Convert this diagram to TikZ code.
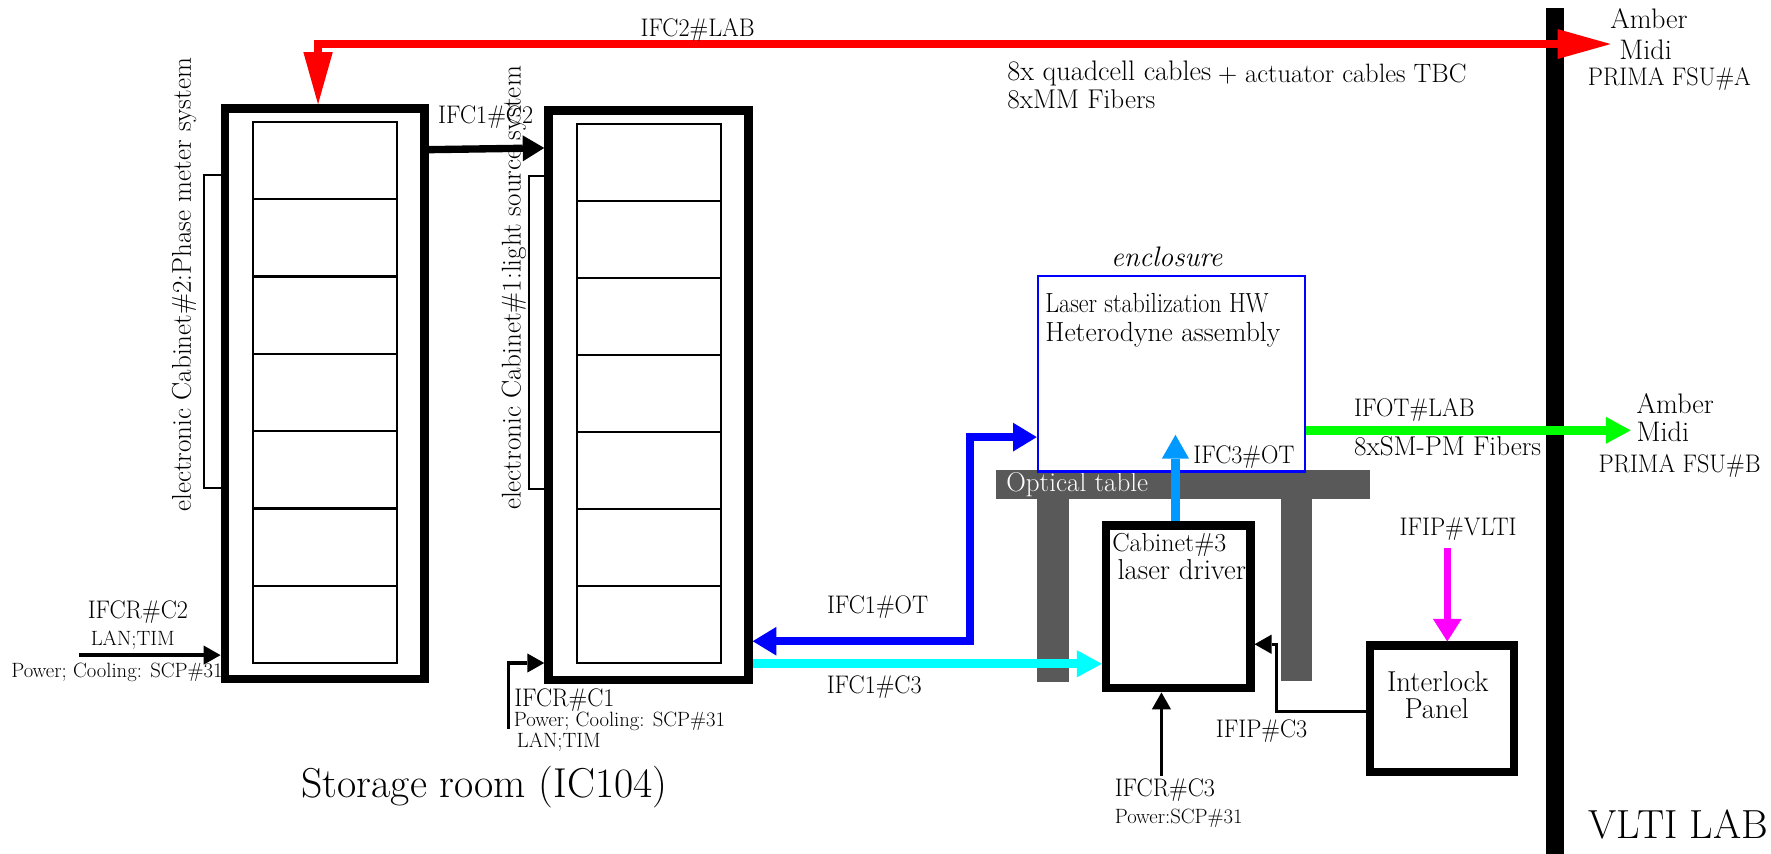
\documentclass[tikz,border=0pt]{standalone}
\usepackage{graphicx}
\usetikzlibrary{arrows.meta}
\definecolor{tgray}{HTML}{595959}
\definecolor{lblue}{HTML}{0099FF}
\definecolor{pcyan}{RGB}{0,255,255}
\definecolor{pmag}{RGB}{255,0,255}
\definecolor{pgreen}{RGB}{0,255,0}
\definecolor{pblue}{RGB}{0,0,255}
\definecolor{pred}{RGB}{255,0,0}
% \lbl{size}{horizontal scale}{text}
\newcommand\lbl[3]{\scalebox{#2}[1]{\fontsize{#1}{#1}\selectfont #3}}
\begin{document}
\begin{tikzpicture}[x=1pt,y=-1pt,
 txt/.style={inner sep=0pt,outer sep=0pt},
 rack/.style={draw,line width=7.5pt,inner sep=0pt},
 slotbox/.style={draw,line width=2pt,inner sep=0pt,outer sep=0pt},
 panel/.style={draw,line width=1.8pt,inner sep=0pt},
 divider/.style={line width=2pt},
 leg/.style={fill=tgray},
 redline/.style={draw=pred,line width=7.4pt,line join=miter,arrows={Triangle[length=47pt,width=26.5pt,line width=0pt]-Triangle[length=46pt,width=26pt,line width=0pt]}},
 blkarrow/.style={draw=black,line width=6.5pt,arrows={-Triangle[length=19pt,width=23pt,line width=0pt]}},
 thinarrow/.style={draw=black,line width=3pt,arrows={-Triangle[length=15pt,width=17pt,line width=0pt]}},
 bluearrow/.style={draw=pblue,line width=7.5pt,arrows={Triangle[length=21pt,width=25.5pt,line width=0pt]-Triangle[length=21pt,width=25.5pt,line width=0pt]}},
 cyanarrow/.style={draw=pcyan,line width=8pt,arrows={-Triangle[length=22pt,width=24pt,line width=0pt]}},
 lbluearrow/.style={draw=lblue,line width=8pt,arrows={-Triangle[length=21pt,width=24pt,line width=0pt]}},
 greenarrow/.style={draw=pgreen,line width=7.4pt,arrows={-Triangle[length=22pt,width=24pt,line width=0pt]}},
 magarrow/.style={draw=pmag,line width=6.7pt,arrows={-Triangle[length=20pt,width=25.5pt,line width=0pt]}},
]
\useasboundingbox (0,0) rectangle (1568,756);
\fill[white] (0,0) rectangle (1568,756);

% ---------- cabinet 2 ----------
\node[panel,minimum width=17pt,minimum height=277pt] (side2) at (189.5,293.5) {};
\node[rack,minimum width=177pt,minimum height=505pt] (cab2) at (287.5,348.5) {};
\node[slotbox,minimum width=127.5pt,minimum height=479pt] (cab2in) at (287.75,347.5) {};
\foreach \k in {1,...,6} \draw[divider] (224,{108+\k*68.43}) -- (351.5,{108+\k*68.43});
\node[txt,rotate=90] (lab2) at (163,252) {\lbl{24}{1}{electronic Cabinet\#2:Phase meter system}};

% ---------- cabinet 1 ----------
\node[panel,minimum width=16.3pt,minimum height=277.2pt] (side1) at (476.15,294.4) {};
\node[rack,minimum width=177.1pt,minimum height=504pt] (cab1) at (574.15,350) {};
\node[slotbox,minimum width=127.6pt,minimum height=477.5pt] (cab1in) at (574.6,348.25) {};
\foreach \k in {1,...,6} \draw[divider] (510.8,{109.5+\k*68.21}) -- (638.4,{109.5+\k*68.21});
\node[txt,rotate=90] (lab1) at (455,255) {\lbl{24}{1}{electronic Cabinet\#1:light source system}};

% ---------- optical table ----------
\node[fill=tgray,minimum width=331.2pt,minimum height=26pt,inner sep=0pt] (table) at (1047.4,429) {};
\fill[leg] (918.5,442) rectangle (946.3,603.5);
\fill[leg] (1134,442) rectangle (1161.8,603);
\node[txt,anchor=base west,text=white] (tablelab) at (891,435) {\lbl{24}{1}{Optical table}};

% ---------- enclosure ----------
\node[draw=pblue,line width=2.2pt,minimum width=236.4pt,minimum height=173.2pt,inner sep=0pt] (enc) at (1037.2,331) {};
\node[txt,anchor=base] (enclab) at (1033,236) {\lbl{25}{1}{\itshape enclosure}};
\node[txt,anchor=base west] (enc1) at (925.5,277) {\lbl{24.5}{0.87}{Laser stabilization HW}};
\node[txt,anchor=base west] (enc2) at (925.5,302) {\lbl{24.5}{1}{Heterodyne assembly}};

% ---------- cabinet 3 ----------
\node[rack,minimum width=127.8pt,minimum height=144pt] (cab3) at (1043.1,537.3) {};
\node[txt,anchor=base west] (cab3a) at (984.8,488.4) {\lbl{23}{1}{Cabinet\#3}};
\node[txt,anchor=base west] (cab3b) at (989.4,513) {\lbl{25.5}{1}{laser driver}};

% ---------- interlock panel ----------
\node[rack,minimum width=127.5pt,minimum height=111.6pt] (il) at (1276.75,627.5) {};
\node[txt,anchor=base] (il1) at (1273,612.4) {\lbl{25.5}{1}{Interlock}};
\node[txt,anchor=base] (il2) at (1272,636) {\lbl{25.5}{1}{Panel}};

% ---------- VLTI lab wall ----------
\fill[black] (1368.6,7.4) rectangle (1384.4,756);

% ---------- coordinates ----------
\coordinate (ra) at (1426,39);
\coordinate (rc) at (281.6,39);
\coordinate (c2in) at (70,580);
\coordinate (c1in) at (450,645);
\coordinate (otbend) at (858.7,387);
\coordinate (ifc3tip) at (1040.7,385);
\coordinate (gtip) at (1443.7,381);
\coordinate (mtop) at (1281.4,485.5);
\coordinate (ipbend) at (1130.4,570.4);
\coordinate (c3in) at (1028.3,687);

% ---------- connectors ----------
\draw[redline] (ra) -- (rc) -- (rc |- cab2.north);
\draw[blkarrow] (cab2.east |- 0,132.5) -- (cab1.west |- 0,131);
\draw[thinarrow] (c2in) -- (c2in -| cab2.west);
\draw[thinarrow] (c1in) |- (cab1.west |- 0,587);
\draw[bluearrow] (cab1.east |- 0,567.7) -| (otbend) -- (enc.west |- otbend);
\draw[cyanarrow] (cab1.east |- 0,587.7) -- (cab3.west |- 0,587.7);
\draw[lbluearrow] (cab3.north -| ifc3tip) -- (ifc3tip);
\draw[greenarrow] (enc.east |- gtip) -- (gtip);
\draw[magarrow] (mtop) -- (mtop |- il.north);
\draw[thinarrow] (il.west |- 0,630) -| (ipbend) -- (cab3.east |- ipbend);
\draw[thinarrow] (c3in) -- (c3in |- cab3.south);

% ---------- labels ----------
\node[txt,anchor=base] (tifc2lab) at (617.7,32.5) {\lbl{22.5}{0.95}{IFC2\#LAB}};
\node[txt,anchor=base] (tambA) at (1460,25) {\lbl{25}{1}{Amber}};
\node[txt,anchor=base] (tmidA) at (1457,52.5) {\lbl{25}{1}{Midi}};
\node[txt,anchor=base] (tprimaA) at (1478,76) {\lbl{22.5}{0.95}{PRIMA FSU\#A}};
\node[txt,anchor=base west] (tquad) at (892,71) {\lbl{25}{1}{8x quadcell cables}};
\node[txt,anchor=base west] (tact) at (1078.4,73) {\lbl{23.5}{1}{+ actuator cables TBC}};
\node[txt,anchor=base west] (tmm) at (892,96) {\lbl{24}{1}{8xMM Fibers}};
\node[txt,anchor=base west] (tifc1c2) at (388,109) {\lbl{22.5}{0.95}{IFC1\#C2}};
\node[txt,anchor=base west] (tifot) at (1199,369) {\lbl{22.5}{0.95}{IFOT\#LAB}};
\node[txt,anchor=base west] (tsmpm) at (1199,403) {\lbl{24}{1}{8xSM-PM Fibers}};
\node[txt,anchor=base west] (tambB) at (1449,366) {\lbl{25}{1}{Amber}};
\node[txt,anchor=base west] (tmidB) at (1449,391) {\lbl{25}{1}{Midi}};
\node[txt,anchor=base] (tprimaB) at (1487,418.5) {\lbl{22.5}{0.95}{PRIMA FSU\#B}};
\node[txt,anchor=base west] (tifc3) at (1056.6,410) {\lbl{22.5}{0.95}{IFC3\#OT}};
\node[txt,anchor=base] (tifipv) at (1291,473.7) {\lbl{22.5}{0.95}{IFIP\#VLTI}};
\node[txt,anchor=base] (tifc1ot) at (777,543.6) {\lbl{22.5}{0.95}{IFC1\#OT}};
\node[txt,anchor=base] (tifc1c3) at (774,613.8) {\lbl{22.5}{0.95}{IFC1\#C3}};
\node[txt,anchor=base west] (tifcrc2) at (77.7,547.4) {\lbl{22.5}{0.95}{IFCR\#C2}};
\node[txt,anchor=base west] (tlan2) at (80.4,571.5) {\lbl{18.3}{1}{LAN;TIM}};
\node[txt,anchor=base west] (tpow2) at (10,600) {\lbl{18.3}{1}{Power; Cooling: SCP\#31}};
\node[txt,anchor=base west] (tifcrc1) at (455.3,625.7) {\lbl{22.5}{0.95}{IFCR\#C1}};
\node[txt,anchor=base west] (tpow1) at (455,643) {\lbl{18.3}{1}{Power; Cooling: SCP\#31}};
\node[txt,anchor=base west] (tlan1) at (457.6,662) {\lbl{18.3}{1}{LAN;TIM}};
\node[txt,anchor=base] (tifipc3) at (1117,652.8) {\lbl{22.5}{0.95}{IFIP\#C3}};
\node[txt,anchor=base west] (tifcrc3) at (987,705.4) {\lbl{22.5}{0.95}{IFCR\#C3}};
\node[txt,anchor=base west] (tpow3) at (987,729) {\lbl{18.3}{1}{Power:SCP\#31}};
\node[txt,anchor=base] (tstorage) at (429,706.5) {\lbl{37}{1}{Storage room (IC104)}};
\node[txt,anchor=base] (tvlti) at (1486,742.2) {\lbl{36}{1}{VLTI LAB}};
\end{tikzpicture}
\end{document}
